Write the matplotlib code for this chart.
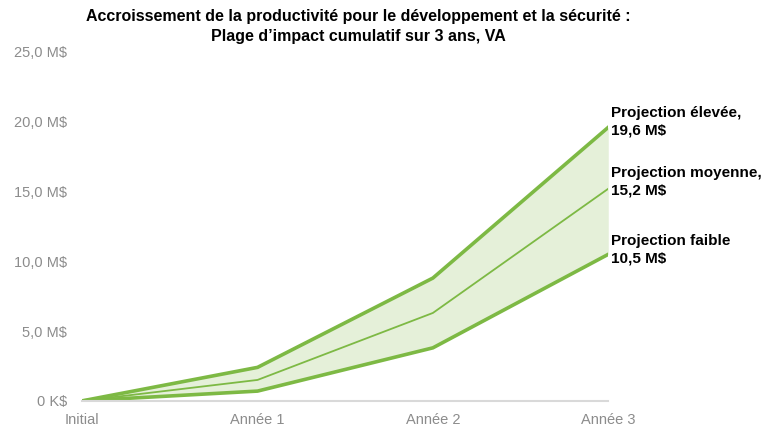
import matplotlib
matplotlib.use("Agg")
from matplotlib import pyplot as plt
from matplotlib.ticker import FuncFormatter

# data
periods = ["Initial", "Année 1", "Année 2", "Année 3"]
high = [0.0, 2.4, 8.8, 19.6]
mid = [0.0, 1.5, 6.3, 15.2]
low = [0.0, 0.7, 3.8, 10.5]
end_labels = ["Projection élevée,\n19,6 M$", "Projection moyenne,\n15,2 M$", "Projection faible\n10,5 M$"]
label_y = [20.0, 15.7, 10.85]

title = ("Accroissement de la productivité pour le développement et la sécurité :\n"
         "Plage d\u2019impact cumulatif sur 3 ans, VA")

plt.rcParams['font.family'] = ['Liberation Sans', 'DejaVu Sans']

green = "#7db944"
fill = "#e5f0d9"

fig = plt.figure(figsize=(7.68, 4.26), dpi=100)
ax = fig.add_axes([0.107, 0.059, 0.685, 0.819])

x = list(range(len(periods)))
ax.fill_between(x, low, high, color=fill, lw=0)
ax.plot(x, high, color=green, lw=2.6, solid_joinstyle="miter")
ax.plot(x, low, color=green, lw=2.6, solid_joinstyle="miter")
ax.plot(x, mid, color=green, lw=1.3)

ax.set_xlim(0, 3)
ax.set_ylim(0, 25)
ax.set_yticks([0, 5, 10, 15, 20, 25])

def fmt(v, pos):
    if v == 0:
        return "0 K$"
    return ("%.1f M$" % v).replace(".", ",")

ax.yaxis.set_major_formatter(FuncFormatter(fmt))
ax.set_xticks(x)
ax.set_xticklabels(periods)

for s in ["top", "right", "left"]:
    ax.spines[s].set_visible(False)
ax.spines["bottom"].set_color("#d9d9d9")
ax.spines["bottom"].set_linewidth(1.5)
ax.tick_params(axis="both", length=0, colors="#8c8c8c", labelsize=10.5)
ax.tick_params(axis="y", pad=11)
ax.tick_params(axis="x", pad=9)

for txt, yv in zip(end_labels, label_y):
    ax.text(3.015, yv, txt, fontsize=11, fontweight="bold", va="center", ha="left",
            linespacing=1.3, clip_on=False)

fig.text(0.466, 0.978, title, ha="center", va="top", fontsize=11.5, fontweight="bold",
         linespacing=1.4)

fig.savefig("out.png", dpi=100)
